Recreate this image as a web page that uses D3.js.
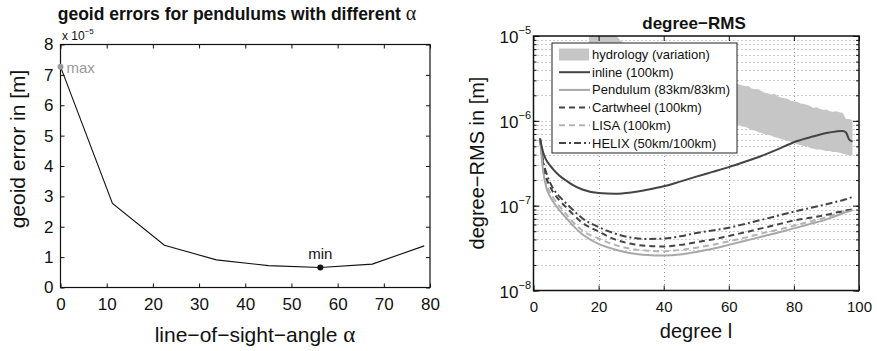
<!DOCTYPE html>
<html>
<head>
<meta charset="utf-8">
<script src="https://cdn.jsdelivr.net/npm/d3@7"></script>
<style>
  html, body { margin: 0; padding: 0; background: #fff; }
  svg { display: block; }
  text { font-family: "Liberation Sans", Arial, Helvetica, sans-serif; fill: #111; }
  .greek { font-family: "Liberation Serif", "Times New Roman", serif; }
</style>
</head>
<body>
<svg id="fig" width="877" height="351"></svg>
<script>
// ---------- left panel: geoid error vs. line-of-sight angle ----------
const angles   = [0, 11.25, 22.5, 33.75, 45, 56.25, 67.5, 78.75];
const geoidErr = [7.27, 2.77, 1.39, 0.91, 0.72, 0.66, 0.77, 1.37];   // ×1e-5 m
const angleTicks = [0, 10, 20, 30, 40, 50, 60, 70, 80];
const errTicks   = [0, 1, 2, 3, 4, 5, 6, 7, 8];

// ---------- right panel: degree-RMS curves ----------
const degrees = [2, 3, 4, 5, 6, 8, 10, 12, 15, 20, 25, 30, 35, 40, 45, 50, 55, 60, 65, 70, 75, 80, 85, 90, 93, 95, 96, 97, 98];
const inline    = [6.2e-7, 4.2e-7, 3.4e-7, 3.0e-7, 2.7e-7, 2.25e-7, 1.98e-7, 1.76e-7, 1.55e-7, 1.41e-7, 1.38e-7, 1.43e-7, 1.54e-7, 1.69e-7, 1.92e-7, 2.2e-7, 2.5e-7, 2.85e-7, 3.3e-7, 3.85e-7, 4.6e-7, 5.6e-7, 6.4e-7, 7.2e-7, 7.5e-7, 7.6e-7, 7.3e-7, 6.0e-7, 5.7e-7];
const pendulum  = [6.2e-7, 2.5e-7, 1.6e-7, 1.3e-7, 1.12e-7, 8.8e-8, 7.2e-8, 5.9e-8, 4.6e-8, 3.55e-8, 3.05e-8, 2.75e-8, 2.62e-8, 2.58e-8, 2.65e-8, 2.85e-8, 3.1e-8, 3.45e-8, 3.85e-8, 4.3e-8, 4.8e-8, 5.4e-8, 6.1e-8, 6.9e-8, 7.6e-8, 8.1e-8, 8.4e-8, 8.6e-8, 8.8e-8];
const cartwheel = [6.2e-7, 3.0e-7, 2.1e-7, 1.7e-7, 1.45e-7, 1.15e-7, 9.6e-8, 8.0e-8, 6.3e-8, 4.95e-8, 4.0e-8, 3.55e-8, 3.35e-8, 3.3e-8, 3.45e-8, 3.7e-8, 4.0e-8, 4.4e-8, 4.85e-8, 5.4e-8, 6.0e-8, 6.7e-8, 7.2e-8, 7.8e-8, 8.3e-8, 8.6e-8, 8.8e-8, 8.9e-8, 9.0e-8];
const lisa      = [6.2e-7, 2.7e-7, 1.8e-7, 1.45e-7, 1.25e-7, 9.8e-8, 8.0e-8, 6.5e-8, 5.1e-8, 4.1e-8, 3.45e-8, 3.1e-8, 2.95e-8, 2.9e-8, 3.0e-8, 3.2e-8, 3.45e-8, 3.8e-8, 4.2e-8, 4.7e-8, 5.2e-8, 5.8e-8, 6.5e-8, 7.3e-8, 8.0e-8, 8.4e-8, 8.7e-8, 8.9e-8, 9.0e-8];
const helix     = [6.2e-7, 3.3e-7, 2.4e-7, 1.9e-7, 1.6e-7, 1.28e-7, 1.07e-7, 9.0e-8, 7.1e-8, 5.6e-8, 4.7e-8, 4.2e-8, 4.05e-8, 4.1e-8, 4.35e-8, 4.75e-8, 5.1e-8, 5.5e-8, 6.1e-8, 6.8e-8, 7.6e-8, 8.5e-8, 9.4e-8, 1.04e-7, 1.11e-7, 1.16e-7, 1.19e-7, 1.23e-7, 1.26e-7];

// hydrology signal variation (upper / lower envelope)
const bandDegree = [17, 19, 21, 23, 25, 27, 28, 30, 33, 36, 39, 42, 45, 48, 51, 54, 57, 60,
  61, 62, 63, 64, 65, 66, 67, 68, 69, 70, 71, 72, 73, 74, 75, 76, 77, 78, 79, 80,
  81, 82, 83, 84, 85, 86, 87, 88, 89, 90, 91, 92, 93, 94, 95, 96, 97, 98];
const bandHigh = [2.4e-5, 2.0e-5, 1.6e-5, 1.3e-5, 1.05e-5, 8.6e-6, 8.0e-6, 7.3e-6, 6.5e-6, 5.8e-6, 5.2e-6, 4.7e-6, 4.2e-6, 3.85e-6, 3.5e-6, 3.25e-6, 3.05e-6, 2.92e-6,
  2.9e-6, 2.75e-6, 2.7e-6, 2.62e-6, 2.55e-6, 2.58e-6, 2.4e-6, 2.35e-6, 2.38e-6, 2.25e-6, 2.15e-6, 2.12e-6, 2.05e-6, 2.08e-6, 1.95e-6, 1.88e-6, 1.85e-6, 1.82e-6, 1.72e-6, 1.7e-6,
  1.68e-6, 1.6e-6, 1.58e-6, 1.55e-6, 1.5e-6, 1.42e-6, 1.45e-6, 1.38e-6, 1.35e-6, 1.36e-6, 1.3e-6, 1.28e-6, 1.3e-6, 1.26e-6, 1.24e-6, 1.05e-6, 1.05e-6, 1.02e-6];
const bandLow = [4.0e-6, 3.75e-6, 3.45e-6, 3.2e-6, 2.95e-6, 2.7e-6, 2.6e-6, 2.4e-6, 2.15e-6, 1.95e-6, 1.75e-6, 1.6e-6, 1.45e-6, 1.3e-6, 1.2e-6, 1.1e-6, 1.02e-6, 0.97e-6,
  0.95e-6, 0.92e-6, 0.9e-6, 0.86e-6, 0.85e-6, 0.82e-6, 0.78e-6, 0.77e-6, 0.74e-6, 0.72e-6, 0.7e-6, 0.68e-6, 0.67e-6, 0.64e-6, 0.63e-6, 0.61e-6, 0.6e-6, 0.58e-6, 0.57e-6, 0.55e-6,
  0.53e-6, 0.52e-6, 0.5e-6, 0.5e-6, 0.48e-6, 0.47e-6, 0.46e-6, 0.46e-6, 0.45e-6, 0.44e-6, 0.44e-6, 0.43e-6, 0.43e-6, 0.42e-6, 0.41e-6, 0.4e-6, 0.39e-6, 0.39e-6];

const degreeTicks = [0, 20, 40, 60, 80, 100];
const decadeTicks = [1e-8, 1e-7, 1e-6, 1e-5];
const decadeExp   = ["−8", "−7", "−6", "−5"];

const seriesInfo = [
  { name: "inline (100km)",        values: inline,    color: "#444", dash: null },
  { name: "Pendulum (83km/83km)",  values: pendulum,  color: "#a8a8a8", dash: null },
  { name: "Cartwheel (100km)",     values: cartwheel, color: "#444", dash: "6,4" },
  { name: "LISA (100km)",          values: lisa,      color: "#b4b4b4", dash: "6,4" },
  { name: "HELIX (50km/100km)",    values: helix,     color: "#444", dash: "7,3,2,3" }
];

const svg = d3.select("#fig");

// ================= left panel =================
const xL = d3.scaleLinear().domain([0, 80]).range([60.5, 430]);
const yL = d3.scaleLinear().domain([0, 8]).range([287.5, 44.5]);
const left = svg.append("g");

left.append("g").attr("transform", `translate(0,${yL(0)})`)
  .call(d3.axisBottom(xL).tickValues(angleTicks).tickSize(-4).tickPadding(10).tickSizeOuter(0))
  .call(g => g.select(".domain").remove());
left.append("g").attr("transform", `translate(0,${yL(8)})`)
  .call(d3.axisTop(xL).tickValues(angleTicks).tickSize(-4).tickFormat("").tickSizeOuter(0))
  .call(g => g.select(".domain").remove());
left.append("g").attr("transform", `translate(${xL(0)},0)`)
  .call(d3.axisLeft(yL).tickValues(errTicks).tickSize(-4).tickPadding(7).tickSizeOuter(0))
  .call(g => g.select(".domain").remove());
left.append("g").attr("transform", `translate(${xL(80)},0)`)
  .call(d3.axisRight(yL).tickValues(errTicks).tickSize(-4).tickFormat("").tickSizeOuter(0))
  .call(g => g.select(".domain").remove());
left.selectAll(".tick line").attr("stroke", "#111");
left.selectAll(".tick text").attr("font-size", 17).attr("fill", "#111")
  .attr("font-family", '"Liberation Sans", Arial, sans-serif');

left.append("rect")
  .attr("x", xL(0)).attr("y", yL(8))
  .attr("width", xL(80) - xL(0)).attr("height", yL(0) - yL(8))
  .attr("fill", "none").attr("stroke", "#111").attr("stroke-width", 1.2);

left.append("path")
  .datum(angles.map((a, i) => [a, geoidErr[i]]))
  .attr("d", d3.line().x(d => xL(d[0])).y(d => yL(d[1])))
  .attr("fill", "none").attr("stroke", "#111").attr("stroke-width", 1.1);

// extreme markers
const iMax = geoidErr.indexOf(d3.max(geoidErr));
const iMin = geoidErr.indexOf(d3.min(geoidErr));
left.append("circle").attr("cx", xL(angles[iMax])).attr("cy", yL(geoidErr[iMax])).attr("r", 3).attr("fill", "#999");
left.append("text").attr("x", xL(angles[iMax]) + 6).attr("y", yL(geoidErr[iMax]) + 6)
  .attr("font-size", 15).style("fill", "#999").text("max");
left.append("circle").attr("cx", xL(angles[iMin])).attr("cy", yL(geoidErr[iMin])).attr("r", 3).attr("fill", "#111");
left.append("text").attr("x", xL(angles[iMin])).attr("y", yL(geoidErr[iMin]) - 8)
  .attr("text-anchor", "middle").attr("font-size", 15).text("min");

// exponent label above the axis
const expL = left.append("text").attr("x", 62).attr("y", 40).attr("font-size", 12);
expL.append("tspan").text("x 10");
expL.append("tspan").attr("font-size", 8).attr("dy", -6).text("−5");

// title and axis labels
const tL = left.append("text").attr("x", 237).attr("y", 20).attr("text-anchor", "middle")
  .attr("font-size", 17.5).attr("font-weight", "bold");
tL.append("tspan").text("geoid errors for pendulums with different ");
tL.append("tspan").attr("class", "greek").attr("font-weight", "normal").attr("font-size", 20).text("α");

const xLab = left.append("text").attr("x", 255).attr("y", 342).attr("text-anchor", "middle").attr("font-size", 21);
xLab.append("tspan").text("line−of−sight−angle ");
xLab.append("tspan").attr("class", "greek").attr("font-size", 23).text("α");

left.append("text").attr("transform", "translate(25,149) rotate(-90)")
  .attr("text-anchor", "middle").attr("font-size", 21).text("geoid error in [m]");

// ================= right panel =================
const xR = d3.scaleLinear().domain([0, 100]).range([533.5, 859]);
const yR = d3.scaleLog().domain([1e-8, 1e-5]).range([290.5, 36]);
const right = svg.append("g");

const defs = svg.append("defs");
defs.append("clipPath").attr("id", "plotR").append("rect")
  .attr("x", xR(0)).attr("y", yR(1e-5)).attr("width", xR(100) - xR(0)).attr("height", yR(1e-8) - yR(1e-5));

// dotted grid
const logTicks = yR.ticks();
const grid = right.append("g").attr("stroke", "#9a9a9a").attr("stroke-width", 1).attr("stroke-dasharray", "1,3");
grid.selectAll("line.h").data(logTicks.filter(v => v > 1.0001e-8 && v < 0.9999e-5)).join("line")
  .attr("x1", xR(0)).attr("x2", xR(100)).attr("y1", d => Math.round(yR(d)) + 0.5).attr("y2", d => Math.round(yR(d)) + 0.5);
grid.selectAll("line.v").data(degreeTicks.slice(1, -1)).join("line")
  .attr("x1", d => Math.round(xR(d)) + 0.5).attr("x2", d => Math.round(xR(d)) + 0.5)
  .attr("y1", yR(1e-5)).attr("y2", yR(1e-8));

const plot = right.append("g").attr("clip-path", "url(#plotR)");

// hydrology band
plot.append("path")
  .datum(bandDegree.map((d, i) => [d, bandLow[i], bandHigh[i]]))
  .attr("d", d3.area().x(d => xR(d[0])).y0(d => yR(d[1])).y1(d => yR(d[2])))
  .attr("fill", "#c6c6c6");

// degree-RMS curves
const lineR = d3.line().curve(d3.curveMonotoneX).x(d => xR(d[0])).y(d => yR(d[1]));
seriesInfo.slice().reverse().forEach(s => {
  plot.append("path")
    .datum(degrees.map((d, i) => [d, s.values[i]]))
    .attr("d", lineR)
    .attr("fill", "none").attr("stroke", s.color).attr("stroke-width", 2)
    .attr("stroke-dasharray", s.dash);
});

// axes (inward ticks)
right.append("g").attr("transform", `translate(0,${yR(1e-8)})`)
  .call(d3.axisBottom(xR).tickValues(degreeTicks).tickSize(-5).tickPadding(11).tickSizeOuter(0))
  .call(g => g.select(".domain").remove())
  .call(g => g.selectAll("text").attr("font-size", 15).attr("fill", "#111")
    .attr("font-family", '"Liberation Sans", Arial, sans-serif'));
right.append("g").attr("transform", `translate(0,${yR(1e-5)})`)
  .call(d3.axisTop(xR).tickValues(degreeTicks).tickSize(-5).tickFormat("").tickSizeOuter(0))
  .call(g => g.select(".domain").remove());
const minorFmt = () => "";
right.append("g").attr("transform", `translate(${xR(0)},0)`)
  .call(d3.axisLeft(yR).tickValues(logTicks).tickSize(-3).tickFormat(minorFmt).tickSizeOuter(0))
  .call(g => g.select(".domain").remove());
right.append("g").attr("transform", `translate(${xR(100)},0)`)
  .call(d3.axisRight(yR).tickValues(logTicks).tickSize(-3).tickFormat(minorFmt).tickSizeOuter(0))
  .call(g => g.select(".domain").remove());
right.append("g").attr("transform", `translate(${xR(0)},0)`)
  .call(d3.axisLeft(yR).tickValues(decadeTicks).tickSize(-6).tickFormat(minorFmt).tickSizeOuter(0))
  .call(g => g.select(".domain").remove());
right.append("g").attr("transform", `translate(${xR(100)},0)`)
  .call(d3.axisRight(yR).tickValues(decadeTicks).tickSize(-6).tickFormat(minorFmt).tickSizeOuter(0))
  .call(g => g.select(".domain").remove());
right.selectAll(".tick line").attr("stroke", "#111");

// power-of-ten labels
decadeTicks.forEach((v, i) => {
  const t = right.append("text").attr("x", 531).attr("y", yR(v) + 7).attr("text-anchor", "end").attr("font-size", 17);
  t.append("tspan").text("10");
  t.append("tspan").attr("font-size", 11).attr("dy", -9).text(decadeExp[i]);
});

right.append("rect")
  .attr("x", xR(0)).attr("y", yR(1e-5))
  .attr("width", xR(100) - xR(0)).attr("height", yR(1e-8) - yR(1e-5))
  .attr("fill", "none").attr("stroke", "#111").attr("stroke-width", 1.5);

// legend
const lg = right.append("g").attr("transform", "translate(552,43)");
lg.append("rect").attr("width", 185).attr("height", 110).attr("fill", "#fff").attr("stroke", "#222").attr("stroke-width", 1);
const rowY = i => 11.5 + i * 17.7;
lg.append("rect").attr("x", 7).attr("y", rowY(0) - 6).attr("width", 30).attr("height", 12).attr("fill", "#c6c6c6");
lg.append("text").attr("x", 40).attr("y", rowY(0) + 4.5).attr("font-size", 13).text("hydrology (variation)");
seriesInfo.forEach((s, i) => {
  const y = rowY(i + 1);
  lg.append("line").attr("x1", 7).attr("x2", 38).attr("y1", y).attr("y2", y)
    .attr("stroke", s.color).attr("stroke-width", 2).attr("stroke-dasharray", s.dash);
  lg.append("text").attr("x", 40).attr("y", y + 4.5).attr("font-size", 13).text(s.name);
});

// titles
right.append("text").attr("x", 694).attr("y", 29).attr("text-anchor", "middle")
  .attr("font-size", 17).attr("font-weight", "bold").text("degree−RMS");
right.append("text").attr("x", 696).attr("y", 338).attr("text-anchor", "middle")
  .attr("font-size", 20).text("degree l");
right.append("text").attr("transform", "translate(484,163) rotate(-90)")
  .attr("text-anchor", "middle").attr("font-size", 20).text("degree−RMS in [m]");
</script>
</body>
</html>
